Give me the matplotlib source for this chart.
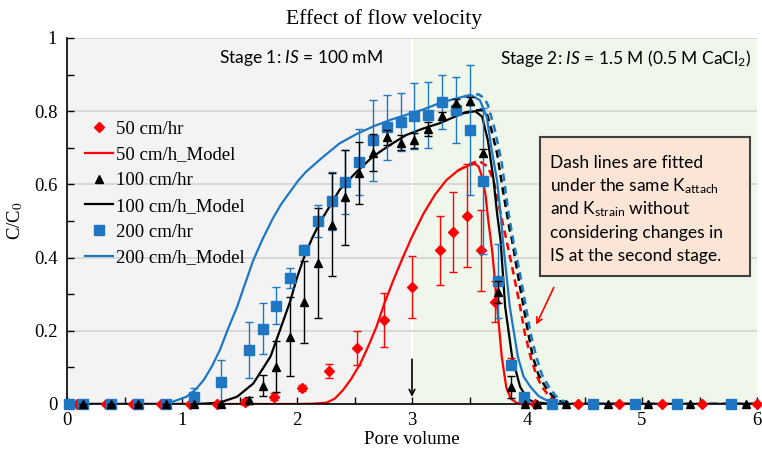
import numpy as np
import matplotlib as mpl
mpl.use('Agg')
import matplotlib.pyplot as plt
from matplotlib.patches import Rectangle
from matplotlib.lines import Line2D

plt.rcParams['font.family'] = 'Liberation Serif'
plt.rcParams['mathtext.fontset'] = 'custom'
plt.rcParams['mathtext.rm'] = 'Lato'
plt.rcParams['mathtext.it'] = 'Lato:italic'
plt.rcParams['mathtext.bf'] = 'Lato:bold'

# ---- measured data (pore volume, C/C0, error) ----
x50 = [0.09, 0.34, 0.57, 0.82, 1.07, 1.30, 1.55, 1.80, 2.04, 2.28, 2.52, 2.76, 3.00,
       3.24, 3.36, 3.48, 3.60, 3.72, 3.86, 3.97, 4.07, 4.44, 4.80, 5.17, 5.52, 6.00]
y50 = [0, 0, 0, 0, 0, 0, 0.006, 0.02, 0.044, 0.09, 0.153, 0.23, 0.32,
       0.42, 0.47, 0.515, 0.42, 0.28, 0.11, 0.005, 0, 0, 0, 0, 0, 0]
e50 = [0, 0, 0, 0, 0, 0, 0.008, 0.01, 0.008, 0.018, 0.047, 0.073, 0.084,
       0.095, 0.11, 0.14, 0.11, 0.055, 0.015, 0, 0, 0, 0, 0, 0, 0]

x100 = [0.14, 0.38, 0.62, 0.86, 1.10, 1.34, 1.58, 1.70, 1.82, 1.94, 2.06, 2.18, 2.30,
        2.42, 2.54, 2.66, 2.78, 2.90, 3.02, 3.14, 3.26, 3.38, 3.50, 3.62, 3.745, 3.86,
        3.98, 4.09, 4.34, 4.70, 5.05, 5.42, 5.90]
y100 = [0, 0, 0, 0, 0, 0, 0.01, 0.05, 0.102, 0.184, 0.28, 0.386, 0.49,
        0.565, 0.632, 0.687, 0.729, 0.714, 0.72, 0.751, 0.787, 0.823, 0.828, 0.687, 0.307, 0.047,
        0, 0, 0, 0, 0, 0, 0]
e100 = [0, 0, 0, 0, 0, 0, 0.01, 0.028, 0.07, 0.108, 0.112, 0.15, 0.14,
        0.13, 0.085, 0.05, 0.02, 0.02, 0.02, 0.02, 0.01, 0.01, 0.01, 0.01, 0.03, 0.03,
        0, 0, 0, 0, 0, 0, 0]

x200 = [0.02, 0.14, 0.38, 0.62, 0.86, 1.10, 1.34, 1.58, 1.70, 1.82, 1.94, 2.06, 2.18,
        2.30, 2.42, 2.54, 2.66, 2.78, 2.90, 3.02, 3.14, 3.26, 3.38, 3.50, 3.62, 3.745,
        3.86, 3.97, 4.22, 4.57, 4.94, 5.30, 5.77]
y200 = [0, 0, 0, 0, 0, 0.018, 0.06, 0.148, 0.206, 0.269, 0.344, 0.422, 0.5,
        0.555, 0.606, 0.66, 0.72, 0.756, 0.77, 0.787, 0.79, 0.825, 0.803, 0.749, 0.61, 0.336,
        0.107, 0.02, 0, 0, 0, 0, 0]
e200 = [0, 0, 0, 0, 0, 0.027, 0.06, 0.077, 0.07, 0.05, 0.027, 0.012, 0.045,
        0.08, 0.087, 0.09, 0.11, 0.088, 0.079, 0.09, 0.09, 0.073, 0.09, 0.178, 0.2, 0.1,
        0.01, 0.005, 0, 0, 0, 0, 0]

# ---- model curves ----
mx50 = [0, 2.0, 2.15, 2.26, 2.33, 2.4, 2.47, 2.55, 2.62, 2.69, 2.76, 2.84, 2.92, 3.0, 3.1,
        3.2, 3.3, 3.4, 3.5, 3.55, 3.58, 3.61, 3.64, 3.66, 3.70, 3.74, 3.78, 3.82, 3.86,
        3.91, 4.0, 6.0]
my50 = [0, 0, 0.001, 0.004, 0.015, 0.038, 0.068, 0.11, 0.158, 0.21, 0.275, 0.34, 0.40,
        0.457, 0.52, 0.572, 0.612, 0.638, 0.653, 0.656, 0.648, 0.62, 0.57, 0.51, 0.41,
        0.27, 0.13, 0.045, 0.014, 0.003, 0, 0]
dx50 = [3.4, 3.5, 3.58, 3.66, 3.71, 3.76, 3.82, 3.88, 3.94, 3.98, 4.03, 4.08, 4.13, 4.2,
        4.26, 4.35, 6.0]
dy50 = [0.638, 0.655, 0.665, 0.648, 0.61, 0.535, 0.45, 0.36, 0.266, 0.195, 0.13, 0.08,
        0.047, 0.018, 0.006, 0, 0]

mx100 = [0, 1.1, 1.2, 1.33, 1.48, 1.62, 1.77, 1.85, 1.94, 2.0, 2.06, 2.13, 2.19, 2.23,
         2.37, 2.52, 2.66, 2.81, 2.95, 3.10, 3.24, 3.35, 3.45, 3.55, 3.61, 3.66, 3.71, 3.74,
         3.77, 3.81, 3.87, 3.94, 4.0, 4.05, 4.2, 6.0]
my100 = [0, 0, 0.001, 0.004, 0.02, 0.056, 0.13, 0.2, 0.28, 0.345, 0.40, 0.452, 0.49, 0.512,
         0.585, 0.635, 0.676, 0.708, 0.735, 0.753, 0.767, 0.782, 0.795, 0.80, 0.785, 0.72,
         0.61, 0.52, 0.448, 0.266, 0.13, 0.047, 0.016, 0.006, 0, 0]
dx100 = [3.45, 3.55, 3.61, 3.65, 3.69, 3.74, 3.79, 3.85, 3.87, 3.92, 3.97, 4.01, 4.05,
         4.1, 4.16, 4.22, 4.28, 4.4, 6.0]
dy100 = [0.795, 0.802, 0.803, 0.794, 0.75, 0.685, 0.585, 0.475, 0.448, 0.355, 0.266,
         0.195, 0.13, 0.08, 0.047, 0.022, 0.008, 0, 0]

mx200 = [0, 0.8, 0.9, 1.04, 1.12, 1.19, 1.26, 1.33, 1.40, 1.48, 1.55, 1.62, 1.70, 1.79,
         1.86, 1.94, 2.01, 2.08, 2.23, 2.37, 2.52, 2.66, 2.81, 2.95, 3.10, 3.24, 3.35, 3.45,
         3.52, 3.59, 3.65, 3.69, 3.74, 3.77, 3.79, 3.85, 3.92, 3.97, 4.03, 4.1, 4.17, 4.3,
         6.0]
my200 = [0, 0, 0.004, 0.02, 0.04, 0.066, 0.103, 0.148, 0.205, 0.266, 0.33, 0.393, 0.45,
         0.507, 0.545, 0.58, 0.61, 0.635, 0.676, 0.712, 0.738, 0.758, 0.776, 0.79, 0.805,
         0.822, 0.832, 0.84, 0.843, 0.83, 0.785, 0.70, 0.61, 0.52, 0.448, 0.266, 0.13,
         0.075, 0.047, 0.022, 0.01, 0, 0]
dx200 = [3.45, 3.52, 3.58, 3.63, 3.66, 3.72, 3.78, 3.84, 3.88, 3.94, 3.99, 4.03, 4.08,
         4.13, 4.19, 4.25, 4.3, 4.4, 6.0]
dy200 = [0.84, 0.845, 0.846, 0.835, 0.817, 0.75, 0.66, 0.52, 0.448, 0.355, 0.266, 0.195,
         0.13, 0.08, 0.047, 0.022, 0.01, 0, 0]

red = '#ff0000'
blk = '#000000'
blu = '#1f77c4'

fig = plt.figure(figsize=(7.62, 4.55), dpi=100)
ax = fig.add_axes([67/762, 51/455, 690/762, 366/455])

ax.axvspan(0, 3, color='#f3f3f3', zorder=0, lw=0)
ax.axvspan(3, 6, color='#eff6ea', zorder=0, lw=0)
ax.axvline(3, color='white', lw=1.5, zorder=0.2)
for g in [0.2, 0.4, 0.6, 0.8, 1.0]:
    ax.axhline(g, color='#d6d6d6', lw=1.3, zorder=0.5)

# models
ax.plot(mx50, my50, color=red, lw=1.6, zorder=2)
ax.plot(dx50, dy50, color=red, lw=1.8, ls=(0, (3, 2)), zorder=2)
ax.plot(mx100, my100, color=blk, lw=1.6, zorder=2)
ax.plot(dx100, dy100, color=blk, lw=1.8, ls=(0, (3, 2)), zorder=2)
ax.plot(mx200, my200, color=blu, lw=1.6, zorder=2)
ax.plot(dx200, dy200, color=blu, lw=1.8, ls=(0, (3, 2)), zorder=2)

# measured
ax.errorbar(x50, y50, yerr=e50, fmt='D', color=red, ms=5, capsize=3, elinewidth=1,
            capthick=1, zorder=3, clip_on=False)
ax.errorbar(x200, y200, yerr=e200, fmt='s', color=blu, ms=7.5, capsize=3, elinewidth=1,
            capthick=1, zorder=4, clip_on=False)
ax.errorbar(x100, y100, yerr=e100, fmt='^', color=blk, ms=6, capsize=3, elinewidth=1,
            capthick=1, zorder=5, clip_on=False)

ax.set_xlim(0, 6)
ax.set_ylim(0, 1)
ax.set_xticks([0, 1, 2, 3, 4, 5, 6])
ax.set_xticks(np.arange(0.5, 6, 1.0), minor=True)
ax.set_yticks([0, 0.2, 0.4, 0.6, 0.8, 1])
ax.set_yticklabels(['0', '0.2', '0.4', '0.6', '0.8', '1'])
ax.set_yticks(np.arange(0.1, 1.0, 0.2), minor=True)
ax.tick_params(which='both', direction='in', length=5, width=1, labelsize=13.5)
ax.tick_params(axis='y', pad=7)
ax.tick_params(axis='x', pad=6)
for s in ['top', 'right']:
    ax.spines[s].set_visible(False)
ax.spines['left'].set_linewidth(1.2)
ax.spines['bottom'].set_linewidth(1.2)

ax.set_xlabel('Pore volume', fontsize=13.5, labelpad=1)
ax.set_ylabel('C/C$_0$', fontsize=13.5, labelpad=6, math_fontfamily='stix')
fig.text(0.504, 0.958, 'Effect of flow velocity', fontsize=15.5, ha='center', va='center')

ax.text(2.035, 0.945, r'Stage 1: $\it{IS}$ = 100 mM', fontsize=12.5, family='Lato',
        ha='center', va='center')
ax.text(4.86, 0.945, r'Stage 2: $\it{IS}$ = 1.5 M (0.5 M CaCl$_2$)', fontsize=12.5,
        family='Lato', ha='center', va='center')

box = Rectangle((4.113, 0.35), 1.826, 0.3795, facecolor='#fbe5d6', edgecolor='#404040',
                lw=1.5, zorder=6)
ax.add_patch(box)
lines = ['Dash lines are fitted', r'under the same K$_{\rm attach}$',
         r'and K$_{\rm strain}$ without', 'considering changes in',
         'IS at the second stage.']
base = [0.645, 0.581, 0.517, 0.454, 0.390]
for t, b in zip(lines, base):
    ax.text(4.2, b, t, fontsize=12.5, family='Lato', ha='left', va='baseline', zorder=7)

ax.annotate('', xy=(4.07, 0.21), xytext=(4.243, 0.325),
            arrowprops=dict(arrowstyle='->', color=red, lw=1.2), zorder=7)
ax.annotate('', xy=(3.0, 0.012), xytext=(3.0, 0.13),
            arrowprops=dict(arrowstyle='->', color=blk, lw=1.2), zorder=7)

handles = [Line2D([], [], marker='D', color=red, ls='none', ms=5),
           Line2D([], [], color=red, lw=1.6),
           Line2D([], [], marker='^', color=blk, ls='none', ms=6),
           Line2D([], [], color=blk, lw=1.6),
           Line2D([], [], marker='s', color=blu, ls='none', ms=7.5),
           Line2D([], [], color=blu, lw=1.6)]
labels = ['50 cm/hr', '50 cm/h_Model', '100 cm/hr', '100 cm/h_Model',
          '200 cm/hr', '200 cm/h_Model']
ax.legend(handles, labels, loc='upper left', bbox_to_anchor=(0.015, 0.795), frameon=False,
          fontsize=13.5, handlelength=1.5, handletextpad=0.15, labelspacing=0.46,
          borderaxespad=0)

fig.savefig('out.png', dpi=100)
